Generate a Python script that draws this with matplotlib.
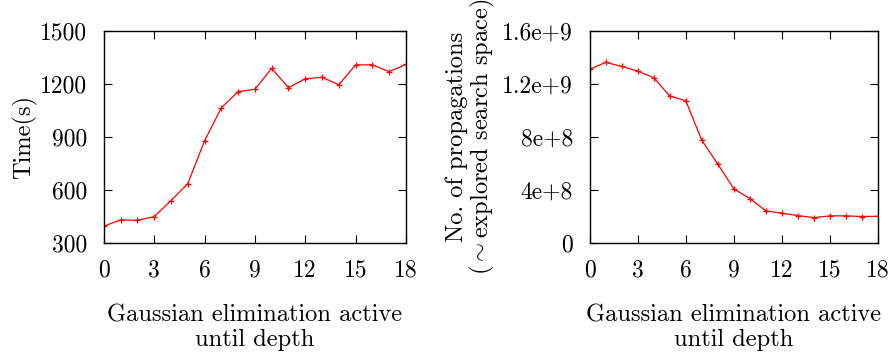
import numpy as np
import matplotlib
matplotlib.use("Agg")
import matplotlib.pyplot as plt

plt.rcParams['font.family'] = ['cmr10']
plt.rcParams['mathtext.fontset'] = 'cm'
plt.rcParams['axes.unicode_minus'] = False

# данные
depth = list(range(19))
time_s = [395, 430, 428, 449, 540, 636, 879, 1066, 1157, 1170, 1289,
          1179, 1230, 1238, 1196, 1308, 1309, 1270, 1311]
propagations = [1.31e9, 1.364e9, 1.333e9, 1.298e9, 1.248e9, 1.109e9, 1.074e9,
                7.75e8, 5.94e8, 4.08e8, 3.35e8, 2.42e8, 2.24e8, 2.06e8,
                1.91e8, 2.04e8, 2.04e8, 1.99e8, 2.01e8]

x_ticks = [0, 3, 6, 9, 12, 15, 18]
time_ticks = [300, 600, 900, 1200, 1500]
prop_ticks = [0, 4e8, 8e8, 1.2e9, 1.6e9]
prop_tick_labels = ['0', '4e+8', '8e+8', '1.2e+9', '1.6e+9']
xlabel = 'Gaussian elimination active\nuntil depth'

fig = plt.figure(figsize=(8.96, 3.53), dpi=100)
ax1 = fig.add_axes([0.116, 0.312, 0.337, 0.600])
ax2 = fig.add_axes([0.658, 0.312, 0.322, 0.600])

fs = 17
lfs = 17.6

def style(ax):
    ax.tick_params(direction='in', top=True, right=True, length=6, width=0.8,
                   labelsize=fs, pad=12)
    for s in ax.spines.values():
        s.set_linewidth(1.0)
    ax.set_xlim(0, 18)
    ax.set_xticks(x_ticks)
    ax.set_xlabel(xlabel, fontsize=lfs, labelpad=16, linespacing=1.15)

ax1.plot(depth, time_s, color='red', lw=0.9, marker='+', ms=5, mew=0.9)
style(ax1)
ax1.set_ylim(300, 1500)
ax1.set_yticks(time_ticks)
ax1.set_ylabel('Time(s)', fontsize=lfs, labelpad=2)

ax2.plot(depth, propagations, color='red', lw=0.9, marker='+', ms=5, mew=0.9)
style(ax2)
ax2.set_ylim(0, 1.6e9)
ax2.set_yticks(prop_ticks)
ax2.set_yticklabels(prop_tick_labels)
ax2.set_ylabel('No. of propagations\n(${\\sim}$explored search space)',
               fontsize=lfs, labelpad=4, linespacing=1.0)

fig.savefig('out.png', dpi=100)
